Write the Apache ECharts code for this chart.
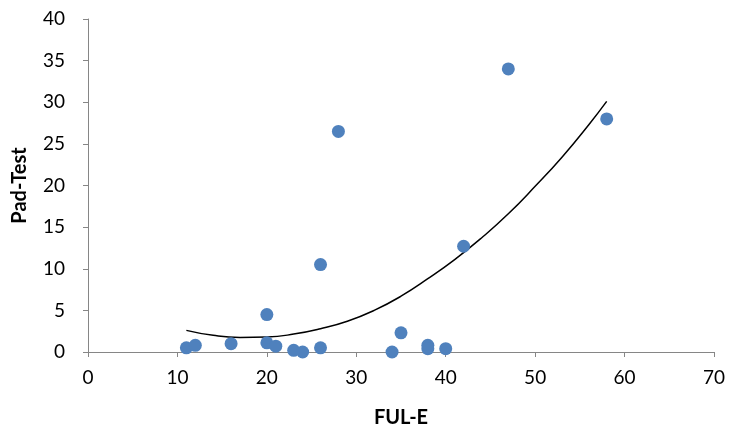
<!DOCTYPE html>
<html>
<head>
<meta charset="utf-8">
<script src="https://cdn.jsdelivr.net/npm/echarts@6/dist/echarts.min.js"></script>
<style>
  html, body { margin: 0; padding: 0; background: #fff; }
  #chart-container { width: 730px; height: 430px; }
</style>
</head>
<body>
<div id="chart-container"></div>
<script>
var fulE = [11, 12, 16, 20, 20, 21, 23, 24, 26, 26, 28, 34, 35, 38, 38, 40, 42, 47, 58];
var padTest = [0.5, 0.8, 1.0, 4.5, 1.1, 0.7, 0.2, 0, 0.5, 10.5, 26.5, 0, 2.3, 0.8, 0.4, 0.4, 12.7, 34, 28];

// trendline
var trendX = [11, 14, 17, 20, 23, 26, 29, 32, 35, 38, 41, 44, 47, 50, 53, 56, 58];
var trendY = [2.6, 2.0, 1.75, 1.8, 2.15, 2.8, 3.7, 5.0, 6.7, 8.8, 11.1, 13.7, 16.6, 19.9, 23.4, 27.3, 30.1];

var dom = document.getElementById('chart-container');
var myChart = echarts.init(dom, null, { renderer: 'canvas' });

var font = 'Lato, "Open Sans", sans-serif';
var axisColor = '#868686';

var points = fulE.map(function (x, i) { return [x, padTest[i]]; });
var trend = trendX.map(function (x, i) { return [x, trendY[i]]; });

var option = {
  animation: false,
  grid: { left: 88, right: 16, top: 19, bottom: 78, containLabel: false, outerBoundsMode: 'none' },
  xAxis: {
    type: 'value',
    min: 0, max: 70, interval: 10,
    name: 'FUL-E',
    nameLocation: 'middle',
    nameGap: 56,
    nameTextStyle: { fontFamily: font, fontWeight: 'bold', fontSize: 20, color: '#000' },
    axisLine: { show: true, lineStyle: { color: axisColor, width: 1 } },
    axisTick: { show: true, length: 5, lineStyle: { color: axisColor } },
    axisLabel: { fontFamily: font, fontSize: 19, color: '#000', margin: 16 },
    splitLine: { show: false }
  },
  yAxis: {
    type: 'value',
    min: 0, max: 40, interval: 5,
    name: 'Pad-Test',
    nameLocation: 'middle',
    nameGap: 58,
    nameTextStyle: { fontFamily: font, fontWeight: 'bold', fontSize: 20, color: '#000' },
    axisLine: { show: true, lineStyle: { color: axisColor, width: 1 } },
    axisTick: { show: true, length: 5, lineStyle: { color: axisColor } },
    axisLabel: { fontFamily: font, fontSize: 19, color: '#000', margin: 23 },
    splitLine: { show: false }
  },
  series: [
    {
      type: 'line',
      data: trend,
      smooth: true,
      showSymbol: false,
      lineStyle: { color: '#000', width: 1.5 },
      z: 1
    },
    {
      type: 'scatter',
      data: points,
      symbolSize: 13,
      itemStyle: { color: '#4F81BD', opacity: 1 },
      z: 2
    }
  ]
};

myChart.setOption(option);
window.addEventListener('resize', myChart.resize);
</script>
</body>
</html>
